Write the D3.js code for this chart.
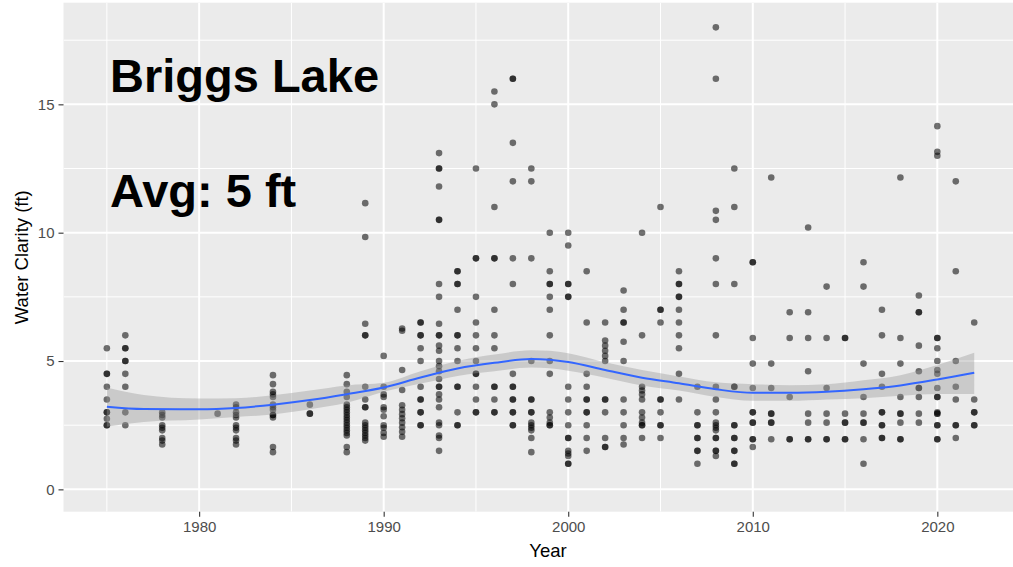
<!DOCTYPE html>
<meta charset="utf-8">
<style>
body { margin: 0; background: #ffffff; }
svg { display: block; font-family: "Liberation Sans", Arial, sans-serif; }
.axis text { fill: #4d4d4d; font-size: 15px; }
.axis line { stroke: #333333; stroke-width: 1.1px; }
.axis path { display: none; }
</style>
<svg width="1013" height="567"></svg>
<script src="https://d3js.org/d3.v7.min.js"></script>
<script>
// years sampled and the clarity readings (ft) taken in each year
var sampleYears = [1975, 1976, 1978, 1981, 1982, 1984, 1986, 1988, 1989, 1990, 1991, 1992, 1993, 1994, 1995,
  1996, 1997, 1998, 1999, 2000, 2001, 2002, 2003, 2004, 2005, 2006, 2007, 2008, 2009, 2010,
  2011, 2012, 2013, 2014, 2015, 2016, 2017, 2018, 2019, 2020, 2021, 2022];
var clarityByYear = [
  [5.5, 4.5, 4.5, 4.0, 3.5, 3.0, 3.0, 2.75, 2.5, 2.5],
  [6.0, 5.5, 5.5, 5.0, 5.0, 4.5, 4.0, 3.0, 2.5],
  [3.0, 2.9, 2.8, 2.5, 2.4, 2.3, 2.0, 1.9, 1.75],
  [2.95],
  [3.3, 3.2, 3.0, 2.9, 2.8, 2.5, 2.4, 2.3, 2.0, 1.9, 1.75],
  [4.45, 4.1, 3.8, 3.7, 3.6, 3.3, 3.2, 3.1, 2.9, 2.9, 2.8, 1.65, 1.45],
  [3.3, 2.95, 2.95],
  [4.45, 4.1, 3.8, 3.6, 3.3, 3.2, 3.1, 3.0, 2.9, 2.8, 2.7, 2.6, 2.5, 2.4, 2.3, 2.2, 2.1, 1.65, 1.45],
  [11.15, 9.83, 6.45, 6.0, 6.0, 4.0, 3.5, 3.2, 3.2, 2.6, 2.5, 2.4, 2.3, 2.2, 2.1, 2.0, 1.9],
  [5.2, 4.0, 3.7, 3.6, 3.2, 3.1, 2.85, 2.5, 2.4, 2.2, 2.05],
  [6.27, 6.18, 4.65, 3.87, 3.28, 3.1, 2.93, 2.77, 2.6, 2.42, 2.24, 2.05],
  [6.5, 6.5, 6.0, 6.0, 5.5, 5.0, 4.0, 3.5, 3.5, 3.0, 3.0, 2.5, 2.5],
  [13.1, 12.5, 12.5, 11.8, 10.5, 10.5, 8.0, 7.5, 6.45, 6.0, 6.0, 5.6, 5.4, 5.0, 4.8, 4.6, 4.3, 4.0, 4.0,
    3.7, 3.5, 3.2, 2.6, 2.5, 2.1, 2.0, 1.5],
  [8.5, 8.5, 8.0, 8.0, 7.0, 6.0, 6.0, 5.5, 5.0, 4.0, 4.0, 3.0, 2.5, 2.5],
  [12.5, 9.0, 9.0, 7.5, 6.5, 6.0, 5.5, 5.0, 4.5, 4.5, 4.0, 3.5, 3.0, 3.0],
  [15.5, 15.0, 11.0, 9.0, 9.0, 7.0, 6.0, 5.5, 4.0, 4.0, 3.5, 3.0, 3.0],
  [16.0, 16.0, 13.5, 12.0, 9.0, 8.0, 4.5, 4.0, 4.0, 3.5, 3.5, 3.0, 3.0, 2.5, 2.5],
  [12.5, 12.0, 9.0, 5.0, 3.5, 3.5, 3.0, 3.0, 2.6, 2.5, 2.4, 2.3, 2.0, 1.45],
  [10.0, 8.5, 8.0, 8.0, 7.5, 7.0, 6.0, 5.0, 4.5, 3.0, 2.8, 2.6, 2.5, 2.5],
  [10.0, 9.5, 8.0, 8.0, 7.5, 7.5, 4.0, 3.5, 3.0, 2.5, 2.0, 2.0, 1.5, 1.4, 1.3, 1.0, 1.0],
  [8.5, 6.5, 4.5, 4.0, 3.5, 3.5, 3.0, 3.0, 2.5, 2.0, 1.5],
  [6.5, 5.8, 5.6, 5.4, 5.2, 5.0, 3.5, 3.5, 3.0, 2.0, 1.65, 1.65],
  [7.75, 7.0, 6.5, 6.5, 5.75, 5.0, 3.5, 3.0, 2.5, 2.0, 1.75],
  [10.0, 6.0, 4.0, 3.85, 3.7, 3.5, 3.0, 2.8, 2.6, 2.5, 2.5, 2.0],
  [11.0, 7.0, 7.0, 6.5, 3.5, 3.5, 3.0, 2.5, 2.5, 2.0],
  [8.5, 8.0, 8.0, 7.5, 7.5, 7.0, 6.5, 6.0, 5.5, 4.5, 3.5],
  [4.0, 3.0, 2.5, 2.5, 2.0, 2.0, 1.5, 1.5, 1.0],
  [18.0, 16.0, 10.85, 10.5, 9.0, 8.0, 6.0, 4.0, 3.5, 3.0, 2.6, 2.5, 2.4, 2.3, 2.0, 2.0, 1.5, 1.5, 1.3],
  [12.5, 11.0, 8.0, 4.0, 4.0, 2.5, 2.5, 2.0, 2.0, 1.5, 1.5, 1.0, 1.0],
  [8.85, 8.85, 5.9, 4.9, 3.95, 3.0, 3.0, 2.6, 2.6, 1.95, 1.95, 1.65],
  [12.15, 4.9, 3.95, 2.95, 2.95, 2.6, 2.6, 1.95],
  [6.9, 5.9, 3.6, 1.95, 1.95],
  [10.2, 6.9, 5.9, 4.6, 2.95, 2.6, 1.95, 1.95],
  [7.9, 5.9, 3.95, 2.95, 2.6, 1.95, 1.95],
  [5.9, 5.9, 2.95, 2.6, 2.6, 1.95, 1.95],
  [8.85, 7.9, 4.9, 3.6, 2.95, 2.6, 2.6, 1.95, 1.0],
  [7.0, 6.0, 4.5, 4.0, 3.0, 3.0, 2.5, 2.5, 2.0, 2.0],
  [12.15, 5.9, 4.9, 3.6, 2.95, 2.95, 2.6, 1.95, 1.95],
  [7.55, 6.9, 6.9, 5.6, 4.6, 3.95, 3.95, 3.6, 2.95, 2.6],
  [14.15, 13.15, 13.0, 5.9, 5.9, 5.5, 5.0, 4.65, 4.5, 3.95, 3.6, 3.6, 3.0, 2.95, 2.95, 2.5, 2.5, 1.95, 1.95],
  [12.0, 8.5, 5.0, 4.0, 3.5, 2.5, 2.5, 2.0],
  [6.5, 3.5, 3.0, 3.0, 2.5, 2.5]
];

// smoothed trend (loess) with its confidence band
var smoothYears = [1975, 1977, 1980, 1982, 1984, 1986, 1988, 1990, 1992, 1994, 1996, 1998, 1999, 2000,
  2002, 2004, 2006, 2008, 2010, 2012, 2014, 2016, 2018, 2020, 2022];
var smoothFit = [3.22, 3.13, 3.12, 3.17, 3.3, 3.48, 3.71, 3.97, 4.36, 4.71, 4.93, 5.08, 5.05, 4.96,
  4.65, 4.35, 4.13, 3.9, 3.76, 3.76, 3.8, 3.9, 4.05, 4.28, 4.54];
var smoothLow = [2.44, 2.62, 2.72, 2.82, 2.92, 3.12, 3.37, 3.8, 4.12, 4.42, 4.6, 4.75, 4.72, 4.62,
  4.35, 4.05, 3.85, 3.6, 3.45, 3.45, 3.5, 3.55, 3.65, 3.72, 3.72];
var smoothHigh = [3.97, 3.68, 3.54, 3.55, 3.67, 3.85, 4.05, 4.15, 4.6, 5.0, 5.25, 5.42, 5.4, 5.3,
  4.95, 4.65, 4.4, 4.17, 4.1, 4.06, 4.1, 4.25, 4.45, 4.85, 5.32];

var xTicks = [1980, 1990, 2000, 2010, 2020];
var yTicks = [0, 5, 10, 15];

var svg = d3.select("svg"),
    panel = {left: 63.5, right: 1017.6, top: 2.7, bottom: 511.7};

var x = d3.scaleLinear().domain([1972.65, 2024.35]).range([panel.left, panel.right]);
var y = d3.scaleLinear().domain([-0.87, 18.96]).range([panel.bottom, panel.top]);

svg.append("clipPath").attr("id", "clip")
  .append("rect")
    .attr("x", panel.left).attr("y", panel.top)
    .attr("width", panel.right - panel.left).attr("height", panel.bottom - panel.top);

svg.append("rect")
  .attr("x", panel.left).attr("y", panel.top)
  .attr("width", panel.right - panel.left).attr("height", panel.bottom - panel.top)
  .attr("fill", "#ebebeb");

var grid = svg.append("g").attr("clip-path", "url(#clip)");
var xMinor = d3.range(1975, 2025, 10), yMinor = [2.5, 7.5, 12.5, 17.5];

grid.selectAll(".vminor").data(xMinor).enter().append("line")
  .attr("x1", function(d) { return x(d); }).attr("x2", function(d) { return x(d); })
  .attr("y1", panel.top).attr("y2", panel.bottom)
  .attr("stroke", "#fff").attr("stroke-width", 1);
grid.selectAll(".hminor").data(yMinor).enter().append("line")
  .attr("y1", function(d) { return y(d); }).attr("y2", function(d) { return y(d); })
  .attr("x1", panel.left).attr("x2", panel.right)
  .attr("stroke", "#fff").attr("stroke-width", 1);
grid.selectAll(".vmajor").data(xTicks).enter().append("line")
  .attr("x1", function(d) { return x(d); }).attr("x2", function(d) { return x(d); })
  .attr("y1", panel.top).attr("y2", panel.bottom)
  .attr("stroke", "#fff").attr("stroke-width", 2);
grid.selectAll(".hmajor").data(yTicks).enter().append("line")
  .attr("y1", function(d) { return y(d); }).attr("y2", function(d) { return y(d); })
  .attr("x1", panel.left).attr("x2", panel.right)
  .attr("stroke", "#fff").attr("stroke-width", 2);

// points
var points = [];
sampleYears.forEach(function(yr, i) {
  clarityByYear[i].forEach(function(v) { points.push({year: yr, value: v}); });
});

var plot = svg.append("g").attr("clip-path", "url(#clip)");
plot.selectAll(".pt").data(points).enter().append("circle")
  .attr("cx", function(d) { return x(d.year); })
  .attr("cy", function(d) { return y(d.value); })
  .attr("r", 3.3)
  .attr("fill", "#000")
  .attr("fill-opacity", 0.55);

// smooth band + line
var smooth = smoothYears.map(function(yr, i) {
  return {year: yr, fit: smoothFit[i], lo: smoothLow[i], hi: smoothHigh[i]};
});

plot.append("path").datum(smooth)
  .attr("fill", "#999999").attr("fill-opacity", 0.4)
  .attr("d", d3.area().curve(d3.curveMonotoneX)
    .x(function(d) { return x(d.year); })
    .y0(function(d) { return y(d.lo); })
    .y1(function(d) { return y(d.hi); }));

plot.append("path").datum(smooth)
  .attr("fill", "none").attr("stroke", "#3366ff").attr("stroke-width", 2)
  .attr("d", d3.line().curve(d3.curveMonotoneX)
    .x(function(d) { return x(d.year); })
    .y(function(d) { return y(d.fit); }));

// axes
svg.append("g").attr("class", "axis")
  .attr("transform", "translate(0," + panel.bottom + ")")
  .call(d3.axisBottom(x).tickValues(xTicks).tickFormat(d3.format("d")).tickSize(5).tickPadding(5));

svg.append("g").attr("class", "axis")
  .attr("transform", "translate(" + panel.left + ",0)")
  .call(d3.axisLeft(y).tickValues(yTicks).tickSize(5).tickPadding(4));

svg.append("text")
  .attr("x", x(1998.9)).attr("y", 557)
  .attr("text-anchor", "middle").attr("font-size", 18.5).attr("fill", "#000")
  .text("Year");

svg.append("text")
  .attr("transform", "translate(28," + ((panel.top + panel.bottom) / 2) + ") rotate(-90)")
  .attr("text-anchor", "middle").attr("font-size", 18.5).attr("fill", "#000")
  .text("Water Clarity (ft)");

// annotations
svg.append("text")
  .attr("x", 110).attr("y", 91.7)
  .attr("font-size", 47).attr("font-weight", "bold").attr("fill", "#000")
  .text("Briggs Lake");
svg.append("text")
  .attr("x", 110).attr("y", 206.7)
  .attr("font-size", 47).attr("font-weight", "bold").attr("fill", "#000")
  .text("Avg: 5 ft");
</script>
